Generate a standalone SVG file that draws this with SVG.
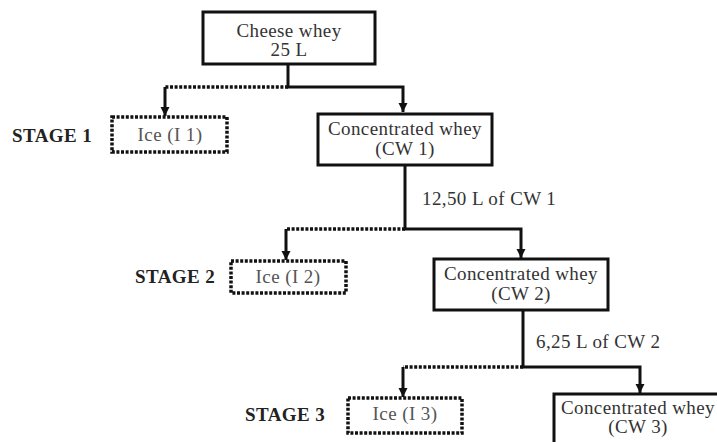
<svg xmlns="http://www.w3.org/2000/svg" width="717" height="442" viewBox="0 0 717 442">
<defs>
<marker id="arr" markerUnits="userSpaceOnUse" markerWidth="10" markerHeight="10" refX="9" refY="5" orient="auto">
<path d="M0,0.5 L9,5 L0,9.5 z" fill="#111"/>
</marker>
<style>
text{font-family:"Liberation Serif","Times New Roman",serif;font-size:19px;fill:#333;letter-spacing:0.4px}
.c{text-anchor:middle}
.g{fill:#555}
.b{font-weight:bold;fill:#222}
.box{fill:#fff;stroke:#111;stroke-width:3}
.ice{fill:#fff;stroke:#111;stroke-width:3.5;stroke-dasharray:3 1.6}
.sl{fill:none;stroke:#111;stroke-width:3}
.dl{fill:none;stroke:#111;stroke-width:3.5;stroke-dasharray:3 1.6}
</style>
</defs>
<rect width="717" height="442" fill="#fff"/>
<g id="connectors">
<path class="sl" d="M288,64 V87 H403 V112" marker-end="url(#arr)"/>
<path class="dl" d="M288,87 H165"/>
<path class="sl" d="M165,87 V116" marker-end="url(#arr)"/>
<path class="sl" d="M405,165 V229 H521 V258" marker-end="url(#arr)"/>
<path class="dl" d="M405,229 H286"/>
<path class="sl" d="M286,229 V260" marker-end="url(#arr)"/>
<path class="sl" d="M523,310 V367 H640 V393" marker-end="url(#arr)"/>
<path class="dl" d="M523,367 H403"/>
<path class="sl" d="M403,367 V397" marker-end="url(#arr)"/>
<text x="422" y="205">12,50 L of CW 1</text>
<text x="536" y="348">6,25 L of CW 2</text>
</g>
<g id="cheese-whey">
<rect class="box" x="203" y="12" width="172" height="52"/>
<text class="c" x="289" y="37">Cheese whey</text>
<text class="c" x="289" y="56">25 L</text>
</g>
<g id="stage1">
<text class="b" x="12" y="142">STAGE 1</text>
</g>
<g id="ice1">
<rect class="ice" x="112" y="117" width="115" height="35"/>
<text class="c g" x="170" y="141">Ice (I 1)</text>
</g>
<g id="cw1">
<rect class="box" x="318" y="114" width="174" height="51"/>
<text class="c" x="405" y="135">Concentrated whey</text>
<text class="c" x="405" y="155">(CW 1)</text>
</g>
<g id="stage2">
<text class="b" x="135" y="283">STAGE 2</text>
</g>
<g id="ice2">
<rect class="ice" x="231" y="261" width="115" height="32"/>
<text class="c g" x="288" y="283">Ice (I 2)</text>
</g>
<g id="cw2">
<rect class="box" x="434" y="259" width="174" height="51"/>
<text class="c" x="521" y="280">Concentrated whey</text>
<text class="c" x="521" y="300">(CW 2)</text>
</g>
<g id="stage3">
<text class="b" x="245" y="421">STAGE 3</text>
</g>
<g id="ice3">
<rect class="ice" x="348" y="398" width="114" height="35"/>
<text class="c g" x="405" y="420">Ice (I 3)</text>
</g>
<g id="cw3">
<rect class="box" x="554" y="394" width="175" height="60"/>
<text class="c" x="638" y="414">Concentrated whey</text>
<text class="c" x="638" y="433">(CW 3)</text>
</g>
</svg>
